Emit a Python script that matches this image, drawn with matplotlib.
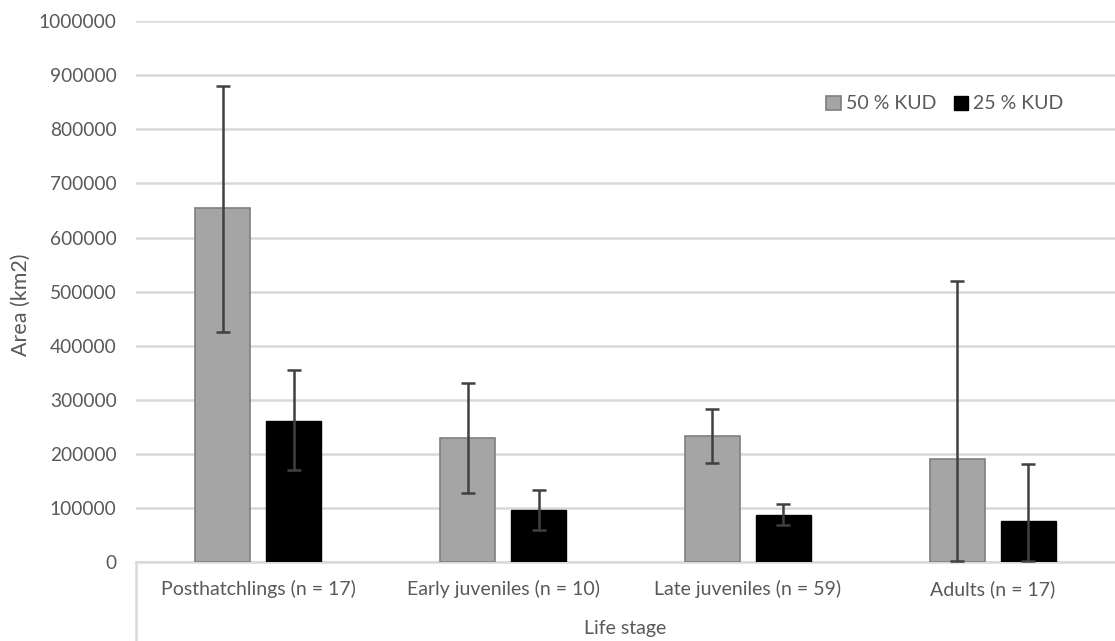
import numpy as np
import matplotlib.pyplot as plt
from matplotlib.lines import Line2D

plt.rcParams['font.family'] = ['Lato', 'DejaVu Sans']

stages = ['Posthatchlings (n = 17)', 'Early juveniles (n = 10)',
          'Late juveniles (n = 59)', 'Adults (n = 17)']
kud50 = [654000, 229000, 233000, 190000]
kud50_lo = [229000, 101000, 50000, 188000]
kud50_hi = [226000, 102000, 50000, 329000]
kud25 = [261000, 96000, 87000, 76000]
kud25_lo = [90000, 37000, 19000, 74000]
kud25_hi = [94000, 37000, 20000, 105000]

txt = '#595959'

fig = plt.figure(figsize=(11.15, 6.41), dpi=100)
ax = fig.add_axes([0.122, 0.123, 0.878, 0.844])

x = np.arange(len(stages))
w = 0.225
off = 0.145
ekw = dict(ecolor='#404040', elinewidth=1.8, capsize=5, capthick=1.8)

ax.bar(x - off, kud50, w, color='#a5a5a5', edgecolor='#7f7f7f', linewidth=1.2,
       yerr=[kud50_lo, kud50_hi], error_kw=ekw, label='50 % KUD', zorder=3)
ax.bar(x + off, kud25, w, color='black', edgecolor='black', linewidth=1,
       yerr=[kud25_lo, kud25_hi], error_kw=ekw, label='25 % KUD', zorder=3)

ax.set_xlim(-0.5, 3.5)
ax.set_ylim(0, 1000000)
ax.set_yticks(np.arange(0, 1000001, 100000))
ax.set_yticklabels([str(v) for v in range(0, 1000001, 100000)])
ax.grid(axis='y', color='#d9d9d9', linewidth=1.8, zorder=0)
ax.set_axisbelow(True)
for s in ['top', 'right', 'left']:
    ax.spines[s].set_visible(False)
ax.spines['bottom'].set_color('#d9d9d9')
ax.spines['bottom'].set_linewidth(1.8)
ax.tick_params(axis='y', length=0, pad=14, labelsize=13.8, labelcolor=txt)
ax.tick_params(axis='x', length=0, pad=13, labelsize=14, labelcolor=txt)
ax.set_xticks(x)
ax.set_xticklabels(stages)
fig.text(0.019, 0.525, 'Area (km2)', rotation=90, ha='center', va='center',
         fontsize=15.5, color=txt)

# left border of the category label box
fig.add_artist(Line2D([0.122, 0.122], [0.0, 0.123], color='#d9d9d9', lw=1.8))
fig.text(0.561, 0.02, 'Life stage', ha='center', va='center', fontsize=14, color=txt)

leg = ax.legend(loc='center right', bbox_to_anchor=(0.965, 0.847), ncol=2, frameon=False,
                fontsize=14, handlelength=0.75, handleheight=0.75, handletextpad=0.25,
                columnspacing=0.9)
for t in leg.get_texts():
    t.set_color(txt)

fig.savefig('out.png', dpi=100)
